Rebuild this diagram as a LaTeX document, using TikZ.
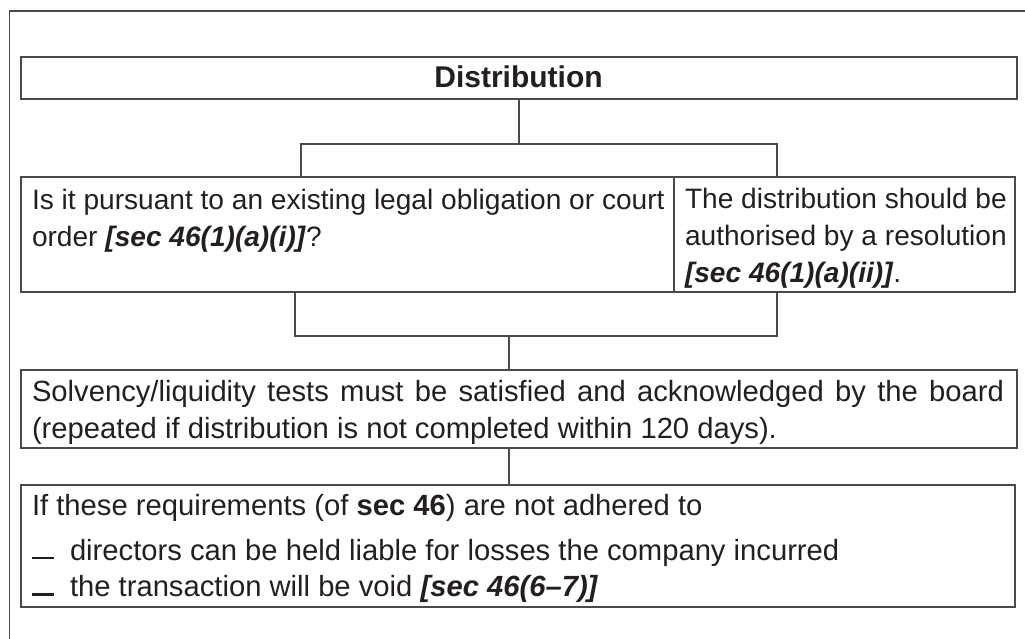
\documentclass[tikz,border=0pt]{standalone}
\usepackage{fontspec}
\setmainfont{Liberation Sans}
\definecolor{linegray}{HTML}{4A4A4A}
\definecolor{ink}{HTML}{231F20}
\newcommand\bodyfont{\fontsize{29.2}{36.6}\selectfont}
\newcommand\narrowfont{\fontsize{28.1}{37}\selectfont}
\newcommand\headfont{\fontsize{30}{36}\selectfont\bfseries}
\newcommand\secref[1]{\textbf{\textit{#1}}}
\newcommand\dashmark{\makebox[38pt][l]{\rule[1pt]{22pt}{2.4pt}}}
\begin{document}
\begin{tikzpicture}[x=1pt,y=-1pt]
\tikzset{
  frame/.style={draw=linegray, line width=1.2pt, inner sep=0pt, outer sep=0pt, anchor=north west},
  conn/.style={draw=linegray, line width=1.2pt},
  txt/.style={inner sep=0pt, outer sep=0pt, anchor=base west, text=ink, font=\bodyfont}
}
\useasboundingbox (0,0) rectangle (1025,639);

% outer page frame
\draw[conn] (9.5,639) -- (9.5,11) -- (1025,11);

% boxes
\node[frame, minimum width=996pt, minimum height=42pt] (dist) at (21,57) {};
\node[frame, minimum width=653pt, minimum height=115pt] (qa) at (21,177) {};
\node[frame, minimum width=341pt, minimum height=115pt] (qb) at (674,177) {};
\node[frame, minimum width=996pt, minimum height=78pt] (solv) at (21,370) {};
\node[frame, minimum width=994pt, minimum height=122pt] (cons) at (21,485) {};

% texts
\node[txt, anchor=base, font=\headfont] (distt) at (518.5,88) {Distribution};
\node[txt, font=\narrowfont] (qat) at (32,210) {\parbox[t]{640pt}{\raggedright
  Is it pursuant to an existing legal obligation or court\\
  order \secref{[sec 46(1)(a)(i)]}?}};
\node[txt, font=\narrowfont] (qbt) at (685,208.5) {\parbox[t]{325pt}{\raggedright
  The distribution should be\\
  authorised by a resolution\\
  \secref{[sec 46(1)(a)(ii)]}.}};
\node[txt] (solvt) at (32,401.5) {\parbox[t]{972pt}{%
  Solvency/liquidity tests must be satisfied and acknowledged by the board\linebreak
  (repeated if distribution is not completed within 120 days).}};
\node[txt] (const) at (32,515) {\parbox[t]{975pt}{\raggedright
  If these requirements (of \textbf{sec 46}) are not adhered to\\[8.5pt]
  \dashmark directors can be held liable for losses the company incurred\\
  \dashmark the transaction will be void \secref{[sec 46(6--7)]}}};

% connectors
\coordinate (ja) at (301,144);
\coordinate (jb) at (777,144);
\coordinate (ka) at (295,336);
\coordinate (kb) at (777,336);
\coordinate (km) at (509,336);
\draw[conn] (dist.south) -- (dist.south |- ja);
\draw[conn] (ja |- qa.north) -- (ja) -- (jb) -- (jb |- qb.north);
\draw[conn] (ka |- qa.south) -- (ka) -- (kb) -- (kb |- qb.south);
\draw[conn] (km) -- (km |- solv.north);
\draw[conn] (km |- solv.south) -- (km |- cons.north);
\end{tikzpicture}
\end{document}
